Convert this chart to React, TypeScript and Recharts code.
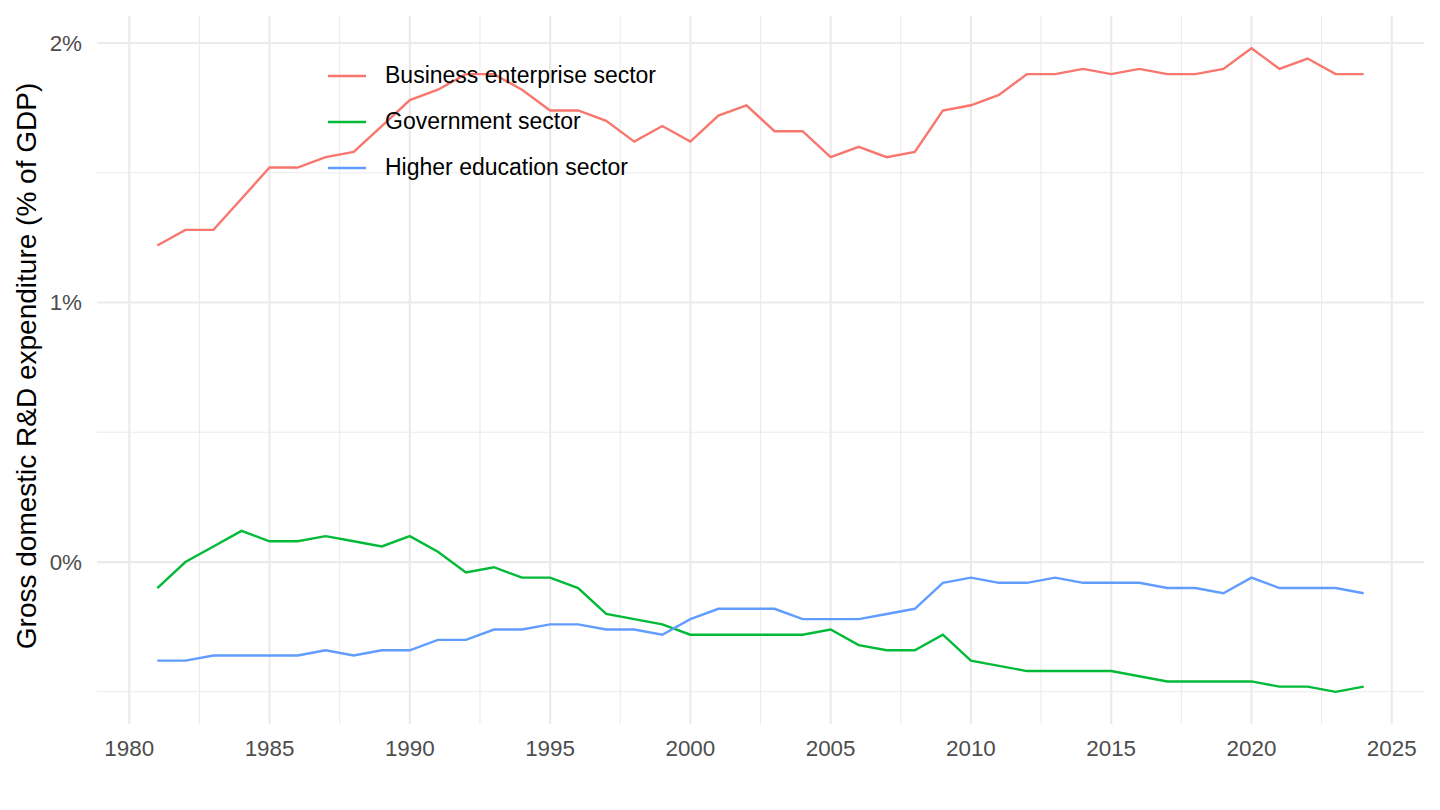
import React from 'react';
import { LineChart, Line, XAxis, YAxis, ReferenceLine, Legend } from 'recharts';

const FONT = '"Liberation Sans", Arial, Helvetica, sans-serif';

const years = [
  1981, 1982, 1983, 1984, 1985, 1986, 1987, 1988, 1989, 1990,
  1991, 1992, 1993, 1994, 1995, 1996, 1997, 1998, 1999, 2000,
  2001, 2002, 2003, 2004, 2005, 2006, 2007, 2008, 2009, 2010,
  2011, 2012, 2013, 2014, 2015, 2016, 2017, 2018, 2019, 2020,
  2021, 2022, 2023, 2024,
];

const business = [
  1.22, 1.28, 1.28, 1.40, 1.52, 1.52, 1.56, 1.58, 1.68, 1.78,
  1.82, 1.88, 1.88, 1.82, 1.74, 1.74, 1.70, 1.62, 1.68, 1.62,
  1.72, 1.76, 1.66, 1.66, 1.56, 1.60, 1.56, 1.58, 1.74, 1.76,
  1.80, 1.88, 1.88, 1.90, 1.88, 1.90, 1.88, 1.88, 1.90, 1.98,
  1.90, 1.94, 1.88, 1.88,
];

const government = [
  -0.10, 0.00, 0.06, 0.12, 0.08, 0.08, 0.10, 0.08, 0.06, 0.10,
  0.04, -0.04, -0.02, -0.06, -0.06, -0.10, -0.20, -0.22, -0.24, -0.28,
  -0.28, -0.28, -0.28, -0.28, -0.26, -0.32, -0.34, -0.34, -0.28, -0.38,
  -0.40, -0.42, -0.42, -0.42, -0.42, -0.44, -0.46, -0.46, -0.46, -0.46,
  -0.48, -0.48, -0.50, -0.48,
];

const higherEducation = [
  -0.38, -0.38, -0.36, -0.36, -0.36, -0.36, -0.34, -0.36, -0.34, -0.34,
  -0.30, -0.30, -0.26, -0.26, -0.24, -0.24, -0.26, -0.26, -0.28, -0.22,
  -0.18, -0.18, -0.18, -0.22, -0.22, -0.22, -0.20, -0.18, -0.08, -0.06,
  -0.08, -0.08, -0.06, -0.08, -0.08, -0.08, -0.10, -0.10, -0.12, -0.06,
  -0.10, -0.10, -0.10, -0.12,
];

const seriesNames = ['Business enterprise sector', 'Government sector', 'Higher education sector'];
const seriesColors = ['#F8766D', '#00BA38', '#619CFF'];

const xTicks = [1980, 1985, 1990, 1995, 2000, 2005, 2010, 2015, 2020, 2025];
const xMinor = [1982.5, 1987.5, 1992.5, 1997.5, 2002.5, 2007.5, 2012.5, 2017.5, 2022.5];
const yTicks = [0, 1, 2];
const yTickLabels = ['0%', '1%', '2%'];
const yMinor = [-0.5, 0.5, 1.5];

const Y_TITLE = 'Gross domestic R&D expenditure (% of GDP)';
const GRID = '#EBEBEB';

const data = years.map((year, i) => ({
  year,
  business: business[i],
  government: government[i],
  higher: higherEducation[i],
}));

const YTitle = (props: any) => {
  const { viewBox } = props;
  const cy = viewBox.y + viewBox.height / 2 - 4;
  const x = 36;
  return (
    <text x={x} y={cy} transform={`rotate(-90, ${x}, ${cy})`} textAnchor="middle"
      fontSize={28} fill="#000" fontFamily={FONT}>
      {Y_TITLE}
    </text>
  );
};

const renderLegend = (props: any) => (
  <div style={{ fontFamily: FONT }}>
    {props.payload.map((entry: any) => (
      <div key={entry.value} style={{ display: 'flex', alignItems: 'center', height: 46 }}>
        <svg width={38} height={4}>
          <line x1={0} y1={2} x2={38} y2={2} stroke={entry.color} strokeWidth={2.4} />
        </svg>
        <span style={{ marginLeft: 19, fontSize: 23, color: '#000' }}>{entry.value}</span>
      </div>
    ))}
  </div>
);

const App: React.FC = () => {
  return (
    <div style={{ position: 'absolute', left: 0, top: 0, background: '#fff' }}>
      <LineChart
        width={1440}
        height={810}
        data={data}
        margin={{ top: 16, right: 16, left: 0, bottom: 0 }}
      >
        {xMinor.map((v) => (
          <ReferenceLine key={'xm' + v} x={v} stroke={GRID} strokeWidth={1.1} />
        ))}
        {yMinor.map((v) => (
          <ReferenceLine key={'ym' + v} y={v} stroke={GRID} strokeWidth={1.1} />
        ))}
        {xTicks.map((v) => (
          <ReferenceLine key={'x' + v} x={v} stroke={GRID} strokeWidth={2.2} />
        ))}
        {yTicks.map((v) => (
          <ReferenceLine key={'y' + v} y={v} stroke={GRID} strokeWidth={2.2} />
        ))}
        <XAxis
          dataKey="year"
          type="number"
          domain={[1978.85, 2026.15]}
          ticks={xTicks}
          interval={0}
          allowDataOverflow
          height={86}
          axisLine={false}
          tickLine={false}
          tickSize={0}
          tickMargin={16}
          tick={{ fill: '#4D4D4D', fontSize: 22.4, fontFamily: FONT }}
        />
        <YAxis
          type="number"
          domain={[-0.624, 2.104]}
          ticks={yTicks}
          interval={0}
          allowDataOverflow
          width={97}
          axisLine={false}
          tickLine={false}
          tickSize={0}
          tickMargin={15}
          tickFormatter={(v: number) => yTickLabels[yTicks.indexOf(v)]}
          tick={{ fill: '#4D4D4D', fontSize: 22.4, fontFamily: FONT }}
          label={<YTitle />}
        />
        <Legend
          layout="vertical"
          align="center"
          verticalAlign="middle"
          content={renderLegend}
          wrapperStyle={{ top: 52.5, left: 328, width: 'auto' }}
        />
        <Line type="linear" dataKey="business" name={seriesNames[0]} stroke={seriesColors[0]}
          strokeWidth={2.4} dot={false} isAnimationActive={false} />
        <Line type="linear" dataKey="government" name={seriesNames[1]} stroke={seriesColors[1]}
          strokeWidth={2.4} dot={false} isAnimationActive={false} />
        <Line type="linear" dataKey="higher" name={seriesNames[2]} stroke={seriesColors[2]}
          strokeWidth={2.4} dot={false} isAnimationActive={false} />
      </LineChart>
    </div>
  );
};

export default App;
